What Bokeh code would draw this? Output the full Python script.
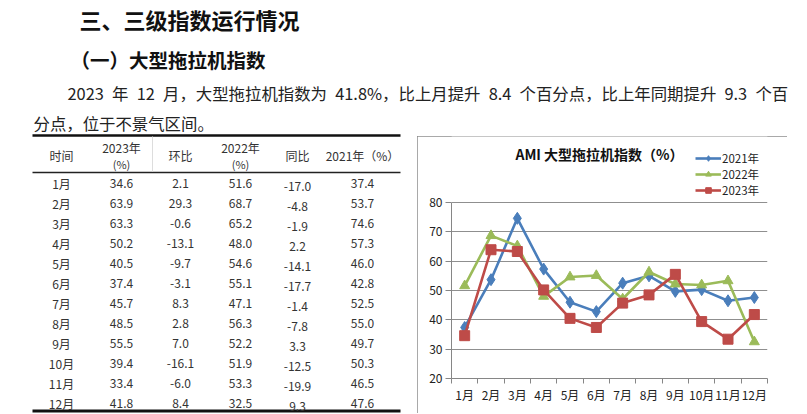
from bokeh.plotting import figure
from bokeh.models import (Range1d, ColumnDataSource, Legend, LegendItem, Label,
                          FixedTicker, Spacer)
from bokeh.layouts import column, row
from bokeh.embed import file_html
from bokeh.resources import INLINE
from bokeh.core.properties import value

# ---------------- data ----------------
months = ["1月", "2月", "3月", "4月", "5月", "6月", "7月", "8月", "9月", "10月", "11月", "12月"]
idx_2023 = [34.6, 63.9, 63.3, 50.2, 40.5, 37.4, 45.7, 48.5, 55.5, 39.4, 33.4, 41.8]
mom_2023 = [2.1, 29.3, -0.6, -13.1, -9.7, -3.1, 8.3, 2.8, 7.0, -16.1, -6.0, 8.4]
idx_2022 = [51.6, 68.7, 65.2, 48.0, 54.6, 55.1, 47.1, 56.3, 52.2, 51.9, 53.3, 32.5]
yoy_2023 = [-17.0, -4.8, -1.9, 2.2, -14.1, -17.7, -1.4, -7.8, 3.3, -12.5, -19.9, 9.3]
idx_2021 = [37.4, 53.7, 74.6, 57.3, 46.0, 42.8, 52.5, 55.0, 49.7, 50.3, 46.5, 47.6]
series_labels = ["2021年", "2022年", "2023年"]
y_ticks = [20, 30, 40, 50, 60, 70, 80]

heading = "三、三级指数运行情况"
subheading = "（一）大型拖拉机指数"
para_1 = "2023\u2002年\u200212\u2002月，大型拖拉机指数为\u200241.8%，比上月提升\u20028.4\u2002个百分点，比上年同期提升\u20029.3\u2002个百"
para_2 = "分点，位于不景气区间。"
table_header_1 = ["时间", "2023年", "环比", "2022年", "同比", "2021年（%）"]
table_header_2 = ["", "(%)", "", "(%)", "", ""]
chart_title = "AMI 大型拖拉机指数（%）"

FONT = "Noto Sans CJK SC"


def blank(w, h, x0, x1, y0, y1):
    p = figure(width=w, height=h, x_range=Range1d(x0, x1), y_range=Range1d(y0, y1),
               output_backend="svg", toolbar_location=None, min_border=0,
               x_axis_location=None, y_axis_location=None)
    p.grid.visible = False
    p.outline_line_color = None
    p.background_fill_color = "white"
    p.border_fill_color = "white"
    return p


# ---------------- top text block ----------------
top = blank(807, 133, 0, 807, 133, 0)
top.text(x=[79], y=[18], text=[heading], text_font=value(FONT), text_font_size="22px",
         text_font_style="bold", text_baseline="middle", text_color="#111111")
top.text(x=[70], y=[59], text=[subheading], text_font=value(FONT), text_font_size="19.5px",
         text_font_style="bold", text_baseline="middle", text_color="#111111")
top.text(x=[67], y=[92], text=[para_1], text_font=value(FONT), text_font_size="16.4px",
         text_baseline="middle", text_color="#222222")
top.text(x=[33], y=[122], text=[para_2], text_font=value(FONT), text_font_size="16.4px",
         text_baseline="middle", text_color="#222222")

# ---------------- table ----------------
tbl = blank(417, 281, 0, 417, 414, 133)
col_x = [61, 121, 180, 240, 297, 362]
row_y = [183 + 20 * i for i in range(len(months))]

tbl.line([32, 400], [135, 135], line_width=2.5, line_color="#111111")
tbl.line([32, 400], [172, 172], line_width=1.3, line_color="#222222")
tbl.line([32, 400], [410.5, 410.5], line_width=3, line_color="#111111")
tbl.line([152, 152], [136, 171], line_width=1, line_color="#dddddd")

hdr_y = [155, 147, 155, 147, 155, 155]
tbl.text(x=col_x, y=hdr_y, text=table_header_1, text_font=value(FONT), text_font_size="12px",
         text_align="center", text_baseline="middle", text_color="#333333")
tbl.text(x=[c for c, t in zip(col_x, table_header_2) if t],
         y=[163 for t in table_header_2 if t],
         text=[t for t in table_header_2 if t], text_font=value(FONT), text_font_size="11px",
         text_align="center", text_baseline="middle", text_color="#333333")

columns = [months,
           [f"{v:.1f}" for v in idx_2023],
           [f"{v:.1f}" for v in mom_2023],
           [f"{v:.1f}" for v in idx_2022],
           [f"{v:.1f}" for v in yoy_2023],
           [f"{v:.1f}" for v in idx_2021]]
offsets = [0, 0, 0, 0, 3, 0]
for cx, vals, off in zip(col_x, columns, offsets):
    src = ColumnDataSource(dict(x=[cx] * len(vals), y=[ry + off for ry in row_y], t=vals))
    tbl.text(x="x", y="y", text="t", source=src, text_font=value(FONT), text_font_size="12px",
             text_align="center", text_baseline="middle", text_color="#333333")

# ---------------- chart ----------------
# frame reaches up to the chart box top so the title and legend sit inside it;
# the y axis line itself is bounded to the 20..80 span
xs = list(range(1, len(months) + 1))
ch = figure(width=370, height=277, x_range=Range1d(0.5, len(months) + 0.5),
            y_range=Range1d(y_ticks[0], 102.5),
            output_backend="svg", toolbar_location=None,
            min_border_left=34, min_border_right=20, min_border_top=0, min_border_bottom=35)
ch.styles = {"outline": "1px solid #8c8c8c", "outline-offset": "-1px"}
ch.outline_line_color = None
ch.background_fill_color = "white"
ch.border_fill_color = "white"

ch.xaxis.ticker = FixedTicker(ticks=xs, minor_ticks=[i + 0.5 for i in range(len(months) + 1)])
ch.xaxis.major_label_overrides = {i: m for i, m in zip(xs, months)}
ch.xaxis.major_tick_line_color = None
ch.xaxis.major_tick_out = 5
ch.xaxis.minor_tick_in = 0
ch.xaxis.minor_tick_out = 5
ch.xaxis.minor_tick_line_color = "#868686"
ch.xaxis.axis_line_color = "#868686"
ch.xaxis.major_label_standoff = 2
ch.xaxis.major_label_text_font = FONT
ch.xaxis.major_label_text_font_size = "12px"
ch.xaxis.major_label_text_color = "#222222"

ch.yaxis.ticker = FixedTicker(ticks=y_ticks, minor_ticks=[])
ch.yaxis.bounds = (y_ticks[0], y_ticks[-1])
ch.yaxis.major_tick_in = 0
ch.yaxis.major_tick_out = 6
ch.yaxis.major_tick_line_color = "#868686"
ch.yaxis.axis_line_color = "#868686"
ch.yaxis.major_label_standoff = 3
ch.yaxis.major_label_text_font = FONT
ch.yaxis.major_label_text_font_size = "12px"
ch.yaxis.major_label_text_color = "#222222"

ch.xgrid.visible = False
ch.ygrid.grid_line_color = "#8f8f8f"
ch.ygrid.grid_line_width = 1

series = [idx_2021, idx_2022, idx_2023]
colors = ["#4a7ebb", "#9bbb59", "#be4b48"]
markers = ["diamond", "triangle", "square"]
sizes = [12, 10, 10]
items = []
for lab, vals, c, m, s in zip(series_labels, series, colors, markers, sizes):
    src = ColumnDataSource(dict(x=xs, y=vals))
    lr = ch.line("x", "y", source=src, line_color=c, line_width=2.6)
    sr = ch.scatter("x", "y", source=src, marker=m, size=s, fill_color=c, line_color=c)
    items.append(LegendItem(label=lab, renderers=[lr, sr]))

leg = Legend(items=items, location=(244, 180), padding=0, margin=0, spacing=0,
             label_height=14, glyph_height=14, glyph_width=26, label_standoff=1,
             label_text_font=FONT, label_text_font_size="11.5px", label_text_color="#222222",
             label_text_line_height=1.0,
             border_line_color=None, background_fill_alpha=0)
ch.add_layout(leg)

ch.add_layout(Label(x=148, y=225, x_units="screen", y_units="screen", text=chart_title,
                    text_font=FONT, text_font_size="14px", text_font_style="bold",
                    text_align="center", text_baseline="middle", text_color="#111111"))

layout = column(top, row(tbl, column(Spacer(height=3), ch)))

open("out.html", "w").write(file_html(layout, INLINE, title="AMI"))
